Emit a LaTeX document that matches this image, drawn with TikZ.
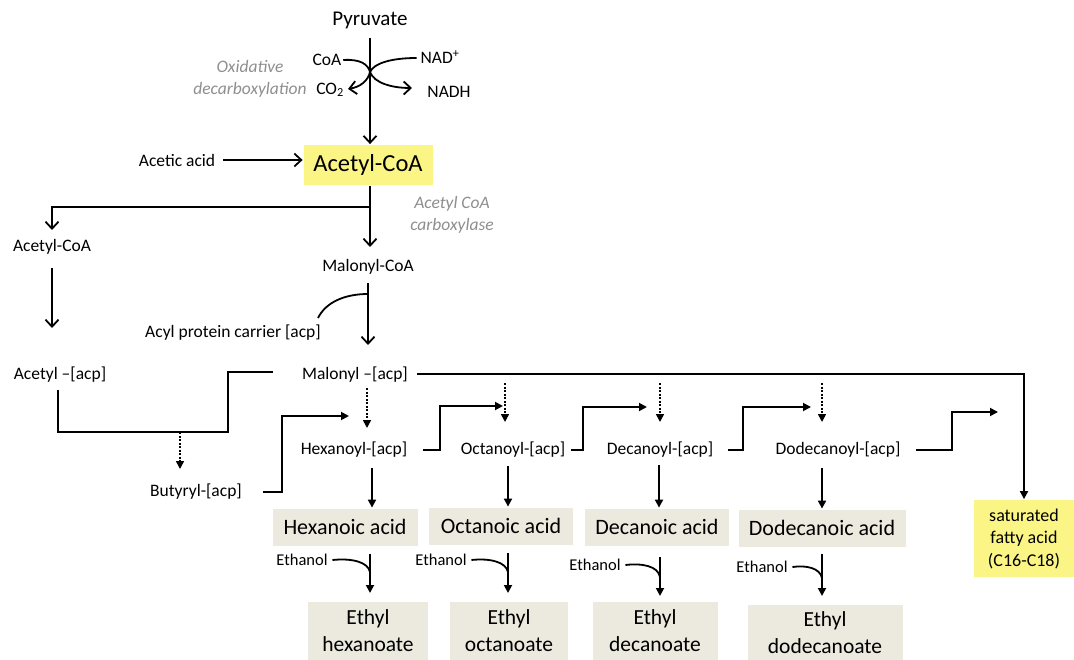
\documentclass[tikz,border=0pt]{standalone}
\usepackage{fontspec}
\setmainfont{Carlito}
\usetikzlibrary{arrows.meta}
\definecolor{ylw}{HTML}{FAF585}
\definecolor{bge}{HTML}{ECE9DF}
\definecolor{gtx}{HTML}{8E8E8E}
\begin{document}
\begin{tikzpicture}[x=1pt,y=-1pt,
  line width=1.8pt,
  lbl/.style={inner sep=1pt, font=\fontsize{17.5}{20}\selectfont},
  big/.style={inner sep=1pt, font=\fontsize{21}{24}\selectfont},
  note/.style={inner sep=1pt, text=gtx, align=center, font=\fontsize{17.5}{22}\selectfont\itshape},
  eth/.style={inner sep=1pt, font=\fontsize{16.5}{19}\selectfont},
  acidbox/.style={fill=bge, inner sep=0pt, font=\fontsize{22}{24}\selectfont, minimum height=37pt},
  estbox/.style={fill=bge, inner sep=0pt, align=center, font=\fontsize{21.5}{27}\selectfont},
  chev/.style={-{Straight Barb[length=7pt,width=13pt,line width=1.8pt]}},
  tri/.style={-{Triangle[length=8pt,width=8pt]}},
  dots/.style={line width=1.6pt, dash pattern=on 2pt off 1.5pt, -{Triangle[length=8pt,width=8pt]}}
]
\useasboundingbox (0,0) rectangle (1074,660);

% top part
\node[big] (pyr) at (370,20) {Pyruvate};
\node[fill=ylw, minimum width=129pt, minimum height=40pt, inner sep=0pt, font=\fontsize{24.5}{27}\selectfont] (acoa) at (368,165) {Acetyl-CoA};
\node[lbl] (coa) at (327,60) {CoA};
\node[lbl] (nad) at (440,57) {NAD\textsuperscript{+}};
\node[lbl] (co2) at (330,90) {CO\textsubscript{2}};
\node[lbl] (nadh) at (449,92) {NADH};
\node[note] (oxd) at (250,79) {Oxidative\\decarboxylation};
\node[lbl] (acet) at (177,160) {Acetic acid};
\node[note] (acc) at (452,215) {Acetyl CoA\\carboxylase};

\coordinate (cross) at (370,72);
\draw[chev] (370,38) -- (acoa.north -| 370,0);
\draw (coa.east) .. controls (360,59) and (368,64) .. (cross);
\draw[chev] (cross) .. controls (368,81) and (360,87) .. (348,89);
\draw (nad.west) ++(-2,1) .. controls (392,58) and (374,63) .. (cross);
\draw[chev] (cross) .. controls (374,83) and (392,88) .. (412,88);
\draw[chev] (acet.east) ++(6,0) -- (acoa.west |- acet.east);

% left branch
\node[lbl] (acoa2) at (52,247) {Acetyl-CoA};
\node[lbl] (macoa) at (368,267) {Malonyl-CoA};
\coordinate (br) at (370,207);
\draw[chev] (acoa.south -| 370,0) -- (370,247);
\draw[chev] (br) -| (52,230);
\draw[chev] (52,268) -- (52,328);

\node[lbl] (apc) at (233,333) {Acyl protein carrier [acp]};
\node[lbl] (aacp) at (60,375) {Acetyl –[acp]};
\node[lbl] (macp) at (355,375) {Malonyl –[acp]};
\draw[chev] (368,283) -- (368,345);
\draw (318,318) .. controls (326,302) and (345,294) .. (368,294);

% acetyl-acp -> butyryl
\node[lbl] (bacp) at (196,492) {Butyryl-[acp]};
\coordinate (j1) at (180,432);
\draw (58,390) -- (58,432) -- (228,432) -- (228,372) -- (273,372);
\draw[dots] (j1) -- (180,469);

% malonyl line to saturated
\node[fill=ylw, inner sep=0pt, minimum width=101pt, minimum height=77pt, align=center, font=\fontsize{18}{22.5}\selectfont] (sfa) at (1024,538.5) {saturated\\fatty acid\\(C16-C18)};
\draw[tri] (macp.east) ++(7,-1) -| (sfa.north);

% acyl chain
\node[lbl] (hacp) at (354,450) {Hexanoyl-[acp]};
\node[lbl] (oacp) at (513,450) {Octanoyl-[acp]};
\node[lbl] (dacp) at (660,450) {Decanoyl-[acp]};
\node[lbl] (ddacp) at (838,450) {Dodecanoyl-[acp]};

\draw[dots] (367,388) -- (367,428);
\draw[dots] (505,383) -- (505,422);
\draw[dots] (660,383) -- (660,422);
\draw[dots] (822,383) -- (822,422);

\draw[tri] (bacp.east) ++(19,0) -- (282,492) -- (282,416) -- (349,416);
\draw[tri] (hacp.east) ++(14,0) -- (440,450) -- (440,406) -- (503,406);
\draw[tri] (oacp.east) ++(4,0) -- (583,450) -- (583,407) -- (647,407);
\draw[tri] (dacp.east) ++(13,0) -- (743,450) -- (743,407) -- (811,407);
\draw[tri] (ddacp.east) ++(14,0) -- (952,450) -- (952,412) -- (998,412);

% acids
\node[acidbox, minimum width=145pt] (hex) at (345,527) {Hexanoic acid};
\node[acidbox, minimum width=144pt] (oct) at (501,526) {Octanoic acid};
\node[acidbox, minimum width=144pt] (dec) at (657,527) {Decanoic acid};
\node[acidbox, minimum width=167pt] (dod) at (822,528) {Dodecanoic acid};

\draw[tri] (372,468) -- (hex.north -| 372,0);
\draw[tri] (508,466) -- (oct.north -| 508,0);
\draw[tri] (659,465) -- (dec.north -| 659,0);
\draw[tri] (822,468) -- (dod.north -| 822,0);

% esters
\node[estbox, minimum width=120pt, minimum height=58pt] (ehex) at (368,631) {Ethyl\\hexanoate};
\node[estbox, minimum width=118pt, minimum height=58pt] (eoct) at (509,631) {Ethyl\\octanoate};
\node[estbox, minimum width=125pt, minimum height=58pt] (edec) at (655,631) {Ethyl\\decanoate};
\node[estbox, minimum width=155pt, minimum height=56pt] (edod) at (825,633) {Ethyl\\dodecanoate};

\node[eth] (et1) at (302,560) {Ethanol};
\node[eth] (et2) at (441,560) {Ethanol};
\node[eth] (et3) at (595,565) {Ethanol};
\node[eth] (et4) at (762,567) {Ethanol};

\draw[tri] (370,554) -- (370,593);
\draw[tri] (508,553) -- (508,593);
\draw[tri] (660,557) -- (660,596);
\draw[tri] (822,554) -- (822,596);
\draw (et1.east) ++(3,0) .. controls (352,558) and (368,562) .. (370,572);
\draw (et2.east) ++(3,0) .. controls (490,558) and (506,562) .. (508,572);
\draw (et3.east) ++(3,0) .. controls (642,563) and (658,566) .. (660,577);
\draw (et4.east) ++(3,0) .. controls (806,565) and (820,568) .. (822,578);

\end{tikzpicture}
\end{document}
